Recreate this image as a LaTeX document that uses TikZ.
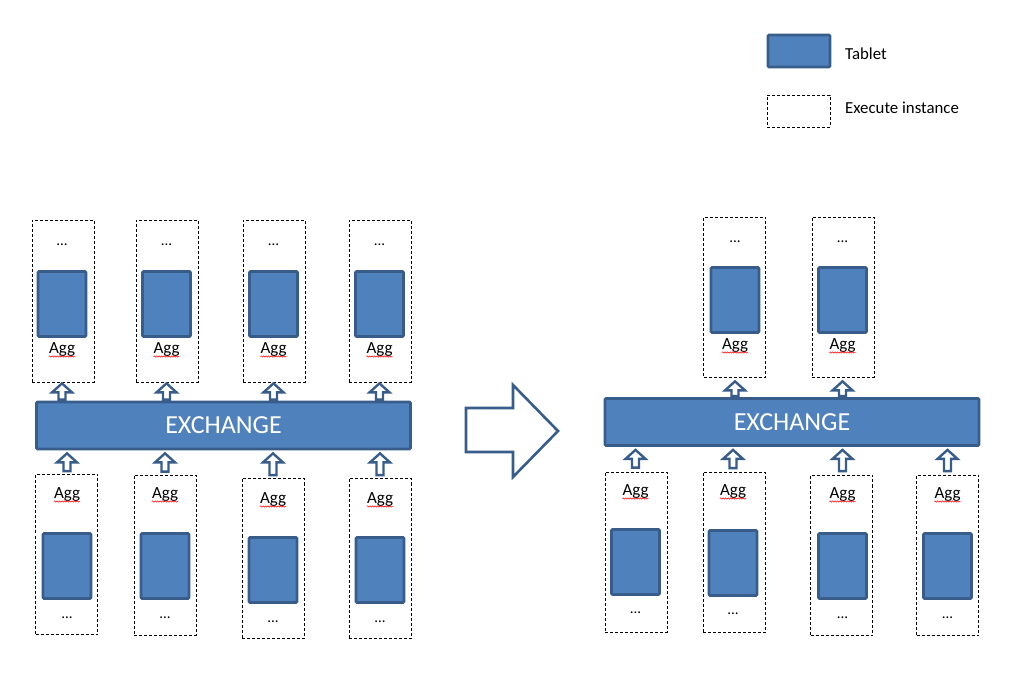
\documentclass[tikz,border=0pt]{standalone}
\usepackage{fontspec}
\setmainfont{Carlito}
\usetikzlibrary{decorations.pathmorphing,calc}
\definecolor{tabfill}{HTML}{4F81BD}
\definecolor{tabline}{HTML}{385D8A}
\newcommand\hup[2]{%
  \draw[harrow] let \p1=(#1), \p2=(#2) in
    ({\x1-3.5pt},{\y1}) -- ({\x1-3.5pt},{\y2-9pt}) -- ({\x1-10pt},{\y2-9pt}) --
    ({\x1},{\y2}) -- ({\x1+10pt},{\y2-9pt}) -- ({\x1+3.5pt},{\y2-9pt}) --
    ({\x1+3.5pt},{\y1}) -- cycle;}
% name, boxcx, boxcy, boxh, tabcx, tabcy, dotsy, aggy
\newcommand\column[8]{%
  \node[inst,minimum height=#4] (i#1) at (#2,#3) {};
  \node[tablet] (t#1) at (#5,#6) {};
  \node[dotst] (d#1) at (#5,#7) {...};
  \node[aggt] (a#1) at (#5,#8) {Agg};
  \draw[squig] ([yshift=-2.5pt]a#1.base west) -- ([yshift=-2.5pt]a#1.base east);}
\begin{document}
\begin{tikzpicture}[x=1pt,y=-1pt,
  tablet/.style={draw=tabline,fill=tabfill,line width=2.8pt,rounded corners=1pt,
    minimum width=48pt,minimum height=65pt,inner sep=0pt},
  inst/.style={draw=black,line width=0.8pt,dash pattern=on 3pt off 2pt,
    minimum width=62pt,inner sep=0pt},
  exch/.style={draw=tabline,fill=tabfill,line width=2.8pt,rounded corners=1pt,
    minimum width=374pt,minimum height=47pt,inner sep=0pt,text=white,
    font=\fontsize{26}{30}\selectfont},
  aggt/.style={inner sep=0pt,font=\fontsize{17}{20}\selectfont},
  dotst/.style={inner sep=0pt,font=\fontsize{15}{18}\selectfont},
  legt/.style={inner sep=0pt,anchor=west,font=\fontsize{16.8}{20}\selectfont},
  squig/.style={draw=red,line width=0.5pt,decorate,
    decoration={snake,amplitude=0.7pt,segment length=2.5pt}},
  harrow/.style={draw=tabline,fill=white,line width=2.4pt,line join=miter},
  bigarrow/.style={draw=tabline,fill=white,line width=2.6pt,line join=miter}]
\useasboundingbox (0,0) rectangle (1034,684);
\fill[white] (0,0) rectangle (1034,684);

% legend
\node[tablet,minimum width=62pt,minimum height=32pt] (legtab) at (799,51) {};
\node[legt] (legtabt) at (845,54) {Tablet};
\node[inst,minimum width=63pt,minimum height=32pt] (leginst) at (798.5,111) {};
\node[legt] (leginstt) at (845,108) {Execute\ instance};

% left side
\node[exch] (exL) at (223.5,425.5) {EXCHANGE};
\column{LT1}{63}{301}{162}{62}{304}{245}{350}
\column{LT2}{167}{301}{162}{166.5}{304}{245}{350}
\column{LT3}{274}{301}{162}{273.5}{304}{245}{350}
\column{LT4}{380}{301}{162}{379.5}{304}{245}{350}
\column{LB1}{66.5}{554.5}{160}{67}{566}{618}{495}
\column{LB2}{165}{555}{160}{165}{566}{618}{495}
\column{LB3}{273}{558.5}{160}{273}{570}{622}{500}
\column{LB4}{380}{558.5}{160}{380}{570}{622}{500}

\foreach \c in {LT1,LT2,LT3,LT4}{
  \hup{$(exL.north -| a\c)+(0,-1)$}{$(i\c.south -| a\c)+(0,1)$}
}
\foreach \c in {LB1,LB2,LB3,LB4}{
  \hup{$(i\c.north -| a\c)+(0,-3)$}{$(exL.south -| a\c)+(0,3)$}
}

% big arrow
\coordinate (ba1) at (466,408);
\draw[bigarrow] (ba1) -- (513,408) -- (513,385) -- (558,431) -- (513,477) -- (513,452) -- (466,452) -- cycle;

% right side
\node[exch] (exR) at (792,422) {EXCHANGE};
\column{RT1}{734.5}{297}{160}{735}{300}{242}{346}
\column{RT2}{843}{297}{160}{842.5}{300}{242}{346}
\column{RB1}{636}{552}{160}{635.5}{562}{613}{492}
\column{RB2}{734}{552.5}{160}{733}{563}{614}{492}
\column{RB3}{841.5}{555.5}{160}{842.5}{566}{618}{495}
\column{RB4}{947.5}{555.5}{160}{947.5}{566}{618}{495}

\foreach \c in {RT1,RT2}{
  \hup{$(exR.north -| a\c)+(0,-1)$}{$(i\c.south -| a\c)+(0,4)$}
}
\foreach \c in {RB1,RB2,RB3,RB4}{
  \hup{$(i\c.north -| a\c)+(0,-4)$}{$(exR.south -| a\c)+(0,3)$}
}
\end{tikzpicture}
\end{document}
